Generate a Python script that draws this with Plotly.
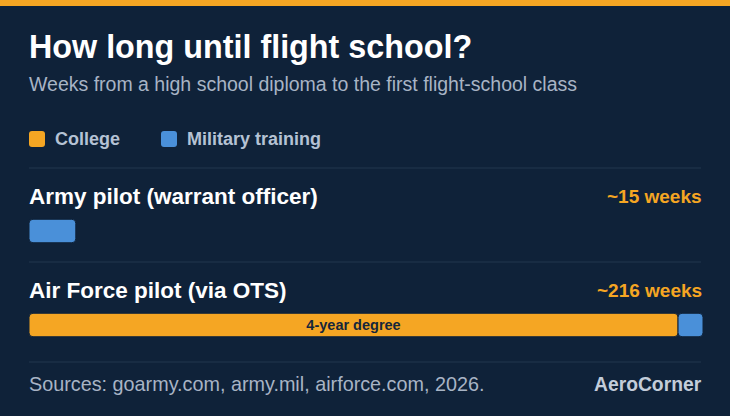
import plotly.graph_objects as go

# data
routes = ["Army pilot (warrant officer)", "Air Force pilot (via OTS)"]
college_weeks = [0, 208]
military_weeks = [15, 8]
college_notes = ["", "4-year degree"]
series_names = ["College", "Military training"]
series_colors = ["#F5A623", "#4A90D9"]

bg = "#0F2239"
W, H = 730, 416
font = "Liberation Sans, Arial, Helvetica, sans-serif"

totals = [c + m for c, m in zip(college_weeks, military_weeks)]


def px_y(y):
    return 1 - y / H


fig = go.Figure()

fig.add_trace(go.Bar(
    y=routes, x=college_weeks, base=[0] * len(routes), orientation="h",
    name=series_names[0], marker=dict(color=series_colors[0], line=dict(color=bg, width=1)),
    text=college_notes, textposition="inside", insidetextanchor="middle", textangle=0,
    insidetextfont=dict(family=font, size=14.5, color="#15263B", weight="bold"),
    width=0.25, hoverinfo="skip",
))
fig.add_trace(go.Bar(
    y=routes, x=military_weeks, base=college_weeks, orientation="h",
    name=series_names[1], marker=dict(color=series_colors[1], line=dict(color=bg, width=1)),
    width=0.25, hoverinfo="skip",
))

ann = []
# title block
ann.append(dict(text="<b>How long until flight school?</b>", x=29 / W, y=px_y(47),
                font=dict(size=32.3, color="#FFFFFF")))
ann.append(dict(text="Weeks from a high school diploma to the first flight-school class",
                x=29 / W, y=px_y(84), font=dict(size=19.5, color="#A8B4C5")))

# legend
shapes = []
leg_x = [29, 161]
for name, col, lx in zip(series_names, series_colors, leg_x):
    r = 3
    path = (f"M 0 {r} Q 0 0 {r} 0 L {16 - r} 0 Q 16 0 16 {r} L 16 {16 - r} "
            f"Q 16 16 {16 - r} 16 L {r} 16 Q 0 16 0 {16 - r} Z")
    shapes.append(dict(type="path", xref="paper", yref="paper", xsizemode="pixel", ysizemode="pixel",
                       xanchor=lx / W, yanchor=px_y(147), path=path,
                       fillcolor=col, line=dict(width=0)))
    ann.append(dict(text=f"<b>{name}</b>", x=(lx + 26) / W, y=px_y(139),
                    font=dict(size=18, color="#B5C2D4")))

# dividers
for dy in [168, 262, 362]:
    shapes.append(dict(type="line", xref="paper", yref="paper", x0=29 / W, x1=701 / W,
                       y0=px_y(dy), y1=px_y(dy), line=dict(color="#23364E", width=1)))

# top stripe
shapes.append(dict(type="rect", xref="paper", yref="paper", x0=0, x1=1, y0=px_y(6), y1=1,
                   fillcolor="#F5A623", line=dict(width=0)))

# row labels and totals
for i, (route, tot) in enumerate(zip(routes, totals)):
    ann.append(dict(text=f"<b>{route}</b>", x=29 / W, xref="paper", y=i, yref="y", yshift=35,
                    font=dict(size=22.5, color="#FFFFFF")))
    ann.append(dict(text=f"<b>~{tot} weeks</b>", x=701 / W, xref="paper", xanchor="right",
                    y=i, yref="y", yshift=35, font=dict(size=19, color="#F5A623")))

# footer
ann.append(dict(text="Sources: goarmy.com, army.mil, airforce.com, 2026.", x=29 / W, y=px_y(384),
                font=dict(size=19.8, color="#A8B4C5")))
ann.append(dict(text="<b>AeroCorner</b>", x=701 / W, xanchor="right", y=px_y(384),
                font=dict(size=19.3, color="#C3CDDA")))

for a in ann:
    a.setdefault("xref", "paper")
    a.setdefault("yref", "paper")
    a.setdefault("xanchor", "left")
    a.setdefault("yanchor", "middle")
    a["xshift"] = -2 if a["xanchor"] == "left" else 2.5
    a["showarrow"] = False
    a["font"].setdefault("family", font)

fig.update_layout(
    width=W, height=H,
    margin=dict(l=0, r=0, t=0, b=0),
    paper_bgcolor=bg, plot_bgcolor=bg,
    barmode="overlay", barcornerradius=4,
    showlegend=False,
    xaxis=dict(range=[0, 216], domain=[29 / W, 703 / W], visible=False, fixedrange=True),
    yaxis=dict(type="category", categoryarray=routes, range=[1.5, -0.5],
               domain=[1 - 372 / H, 1 - 184 / H], visible=False, fixedrange=True),
    annotations=ann, shapes=shapes,
    font=dict(family=font),
)

fig.write_html("out.html", config={"displayModeBar": False},
               post_script="document.body.style.margin='0';document.body.style.background='%s';" % bg)
